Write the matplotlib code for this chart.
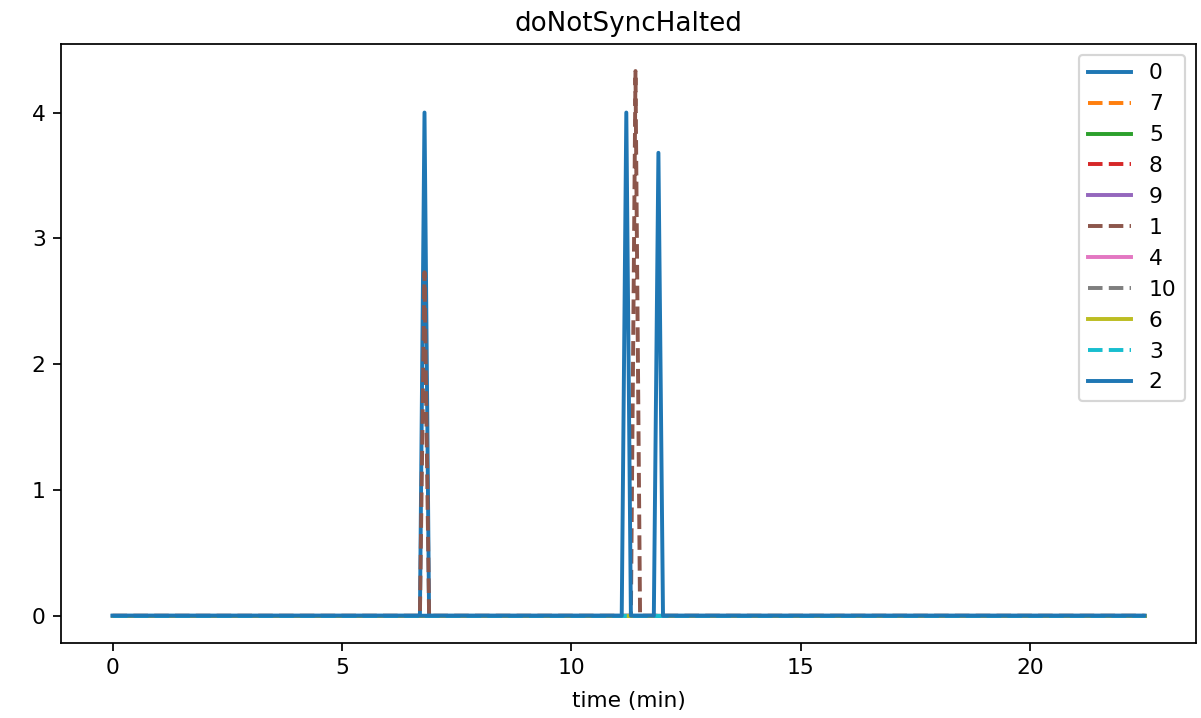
import numpy as np
import matplotlib
matplotlib.use("Agg")
import matplotlib.pyplot as plt

# sampling grid (minutes), samples every 6 s
t_start = 0.0
t_end = 22.5
t_step = 0.1

# series labels in the order they were plotted
labels = ["0", "7", "5", "8", "9", "1", "4", "10", "6", "3", "2"]
styles = ["-", "--", "-", "--", "-", "--", "-", "--", "-", "--", "-"]

# non-zero samples for each node: (time in min, value)
spikes = {
    "0": [(6.8, 4.0)],
    "1": [(6.8, 2.73), (11.4, 4.33)],
    "2": [(11.2, 4.0), (11.9, 3.68)],
}

time = np.round(np.arange(t_start, t_end + t_step / 2, t_step), 1)

dpi = 157
fig, ax = plt.subplots(figsize=(1201 / dpi, 718 / dpi), dpi=dpi)

for lab, ls in zip(labels, styles):
    y = np.zeros_like(time)
    for tt, v in spikes.get(lab, []):
        y[np.argmin(np.abs(time - tt))] = v
    ax.plot(time, y, ls, label=lab, lw=1.8)

ax.set_title("doNotSyncHalted")
ax.set_xlabel("time (min)", labelpad=6)
ax.legend(loc="upper right")

plt.subplots_adjust(left=0.0508, right=0.996, top=0.939, bottom=0.1045)
plt.savefig("out.png", dpi=dpi)
